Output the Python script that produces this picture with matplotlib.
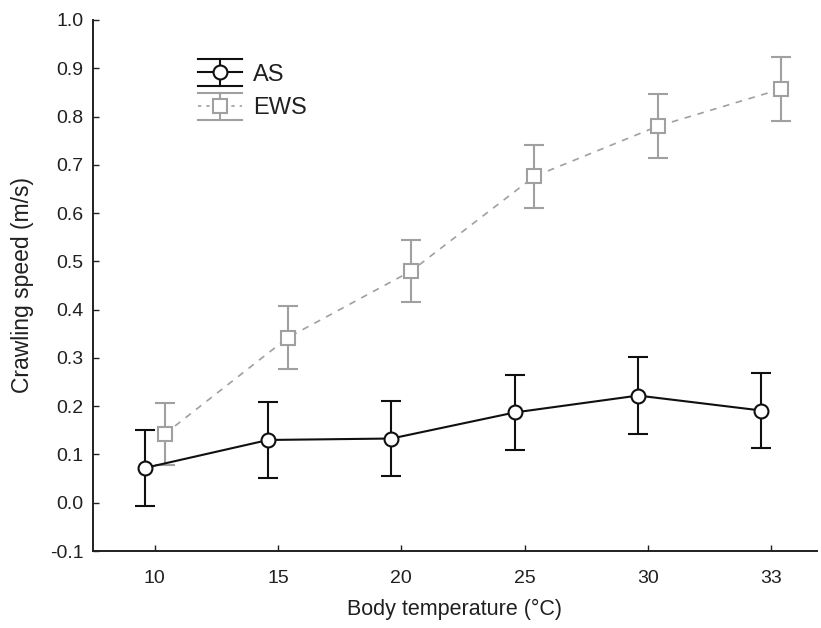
import matplotlib
matplotlib.use("Agg")
import matplotlib.pyplot as plt
from matplotlib.legend_handler import HandlerBase
from matplotlib.lines import Line2D
import numpy as np

plt.rcParams['font.family'] = ['Liberation Sans', 'DejaVu Sans']

categories = ["10", "15", "20", "25", "30", "33"]
as_mean = [0.072, 0.130, 0.133, 0.187, 0.222, 0.191]
as_err = [0.078, 0.078, 0.078, 0.078, 0.079, 0.077]
ews_mean = [0.142, 0.342, 0.480, 0.676, 0.780, 0.857]
ews_err = [0.064, 0.065, 0.064, 0.065, 0.066, 0.067]

fig = plt.figure(figsize=(8.21, 6.28), dpi=100)
ax = fig.add_axes([0.1133, 0.1226, 0.8817, 0.8456])

x = np.arange(len(categories))
off = 0.08
black = "#101010"
gray = "#a0a0a0"

ax.errorbar(x - off, as_mean, yerr=as_err, color=black, lw=1.5, marker='o',
            ms=10, mfc='white', mec=black, mew=1.5, capsize=7, capthick=1.5,
            elinewidth=1.5, zorder=3)
ax.errorbar(x + off, ews_mean, yerr=ews_err, color=gray, lw=1.2, ls=(0, (4, 4)),
            marker='s', ms=10, mfc='white', mec=gray, mew=1.5, capsize=7,
            capthick=1.5, elinewidth=1.5, zorder=2)

ax.set_xlim(-0.5, 5.37)
ax.set_ylim(-0.1, 1.0)
ax.set_xticks(x)
ax.set_xticklabels(categories)
yt = np.round(np.arange(-0.1, 1.01, 0.1), 1)
ax.set_yticks(yt)
ax.set_yticklabels([f"{v:.1f}" for v in yt])
ax.tick_params(direction='in', length=4, width=1, labelsize=14, colors='#202020')
ax.tick_params(axis='x', pad=14)
ax.tick_params(axis='y', pad=7)
for s in ['top', 'right']:
    ax.spines[s].set_visible(False)
for s in ['left', 'bottom']:
    ax.spines[s].set_linewidth(1.4)
    ax.spines[s].set_color('#202020')

ax.set_xlabel("Body temperature (°C)", fontsize=15.5, color='#202020', labelpad=8)
ax.set_ylabel("Crawling speed (m/s)", fontsize=16.5, color='#202020', labelpad=11)


class ErrHandler(HandlerBase):
    def __init__(self, color, ls, marker, lw):
        super().__init__()
        self.color = color
        self.ls = ls
        self.marker = marker
        self.lw = lw

    def create_artists(self, legend, orig_handle, xdescent, ydescent, width,
                       height, fontsize, trans):
        cx = width / 2 - xdescent
        cy = height / 2 - ydescent
        h = 9.8
        arts = []
        arts.append(Line2D([-xdescent, width - xdescent], [cy, cy], color=self.color,
                           lw=self.lw, ls=self.ls, transform=trans))
        arts.append(Line2D([cx, cx], [cy - h, cy + h], color=self.color, lw=1.5,
                           transform=trans))
        arts.append(Line2D([-xdescent, width - xdescent], [cy + h, cy + h],
                           color=self.color, lw=1.5, transform=trans))
        arts.append(Line2D([-xdescent, width - xdescent], [cy - h, cy - h],
                           color=self.color, lw=1.5, transform=trans))
        arts.append(Line2D([cx], [cy], marker=self.marker, ms=10, mfc='white',
                           mec=self.color, mew=1.5, ls='none', transform=trans))
        return arts


h1 = Line2D([], [])
h2 = Line2D([], [])
leg = ax.legend([h1, h2], ["AS", "EWS"],
                handler_map={h1: ErrHandler(black, '-', 'o', 1.5),
                             h2: ErrHandler(gray, (0, (2, 3)), 's', 1.2)},
                loc='upper left', bbox_to_anchor=(0.116, 0.961), frameon=False,
                fontsize=17, handlelength=1.86, handleheight=1.0, labelspacing=0.43,
                handletextpad=0.47)
for t in leg.get_texts():
    t.set_color('#202020')

fig.savefig("out.png", dpi=100)
